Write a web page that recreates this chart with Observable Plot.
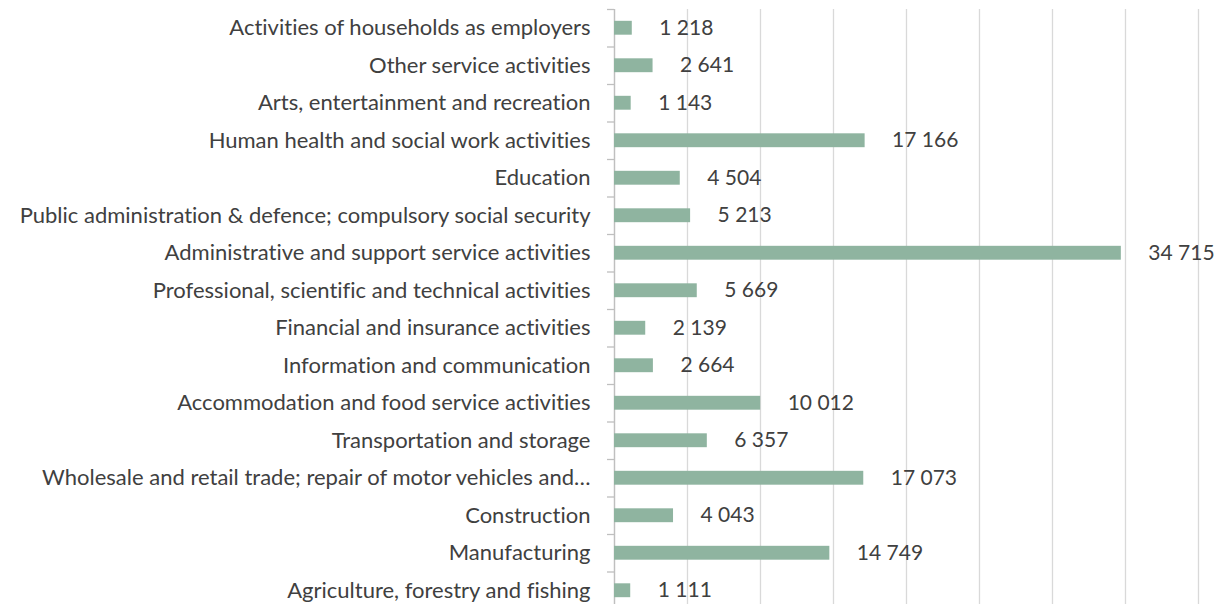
<!DOCTYPE html>
<html>
<head>
<meta charset="utf-8">
<script src="https://cdn.jsdelivr.net/npm/d3@7"></script>
<script src="https://cdn.jsdelivr.net/npm/@observablehq/plot@0.6"></script>
<style>
  html, body { margin: 0; padding: 0; background: #fff; overflow: hidden; }
  #chart svg { display: block; }
  #chart svg text { font-variant-ligatures: none; font-feature-settings: "liga" 0, "clig" 0; }
</style>
</head>
<body>
<div id="chart"></div>
<script>
const categories = [
  "Activities of households as employers",
  "Other service activities",
  "Arts, entertainment and recreation",
  "Human health and social work activities",
  "Education",
  "Public administration & defence; compulsory social security",
  "Administrative and support service activities",
  "Professional, scientific and technical activities",
  "Financial and insurance activities",
  "Information and communication",
  "Accommodation and food service activities",
  "Transportation and storage",
  "Wholesale and retail trade; repair of motor vehicles and…",
  "Construction",
  "Manufacturing",
  "Agriculture, forestry and fishing"
];
const values = [1218, 2641, 1143, 17166, 4504, 5213, 34715, 5669, 2139, 2664, 10012, 6357, 17073, 4043, 14749, 1111];
const xTicks = [0, 5000, 10000, 15000, 20000, 25000, 30000, 35000, 40000];

const data = categories.map((c, i) => ({category: c, value: values[i]}));
const fmt = d3.formatLocale({decimal: ".", thousands: " ", grouping: [3], currency: ["", ""]}).format(",d");
const font = "Lato, 'Open Sans', sans-serif";
const textColor = "#404040";

const W = 1219, H = 609, mT = 9, mB = 0, mL = 614, mR = 21;
const band = (H - mT - mB) / categories.length;
const last = categories[categories.length - 1];

const chart = Plot.plot({
  width: W,
  height: H,
  marginTop: mT,
  marginBottom: mB,
  marginLeft: mL,
  marginRight: mR,
  style: {fontFamily: font, fontSize: "22px", color: textColor, background: "#fff"},
  x: {domain: [0, 40000], axis: null},
  y: {domain: categories, paddingInner: 0.63, paddingOuter: 0.315, round: false, axis: null},
  marks: [
    Plot.gridX(xTicks, {stroke: "#d9d9d9", strokeOpacity: 1, strokeWidth: 1.3}),
    Plot.ruleX([0], {stroke: "#bfbfbf", strokeWidth: 1.3}),
    Plot.ruleY(categories, {y: d => d, x1: -480, x2: 0, dy: -band / 2, stroke: "#bfbfbf", strokeWidth: 1.3}),
    Plot.ruleY([last], {y: d => d, x1: -480, x2: 0, dy: band / 2, stroke: "#bfbfbf", strokeWidth: 1.3}),
    Plot.barX(data, {x: "value", y: "category", fill: "#8fb4a0"}),
    Plot.text(data, {x: "value", y: "category", text: d => fmt(d.value), dx: 27, textAnchor: "start", fill: textColor, fontSize: 21}),
    Plot.axisY({tickSize: 0, tickPadding: 24, fill: textColor, fontSize: 22, label: null})
  ]
});
document.getElementById("chart").appendChild(chart);
</script>
</body>
</html>
